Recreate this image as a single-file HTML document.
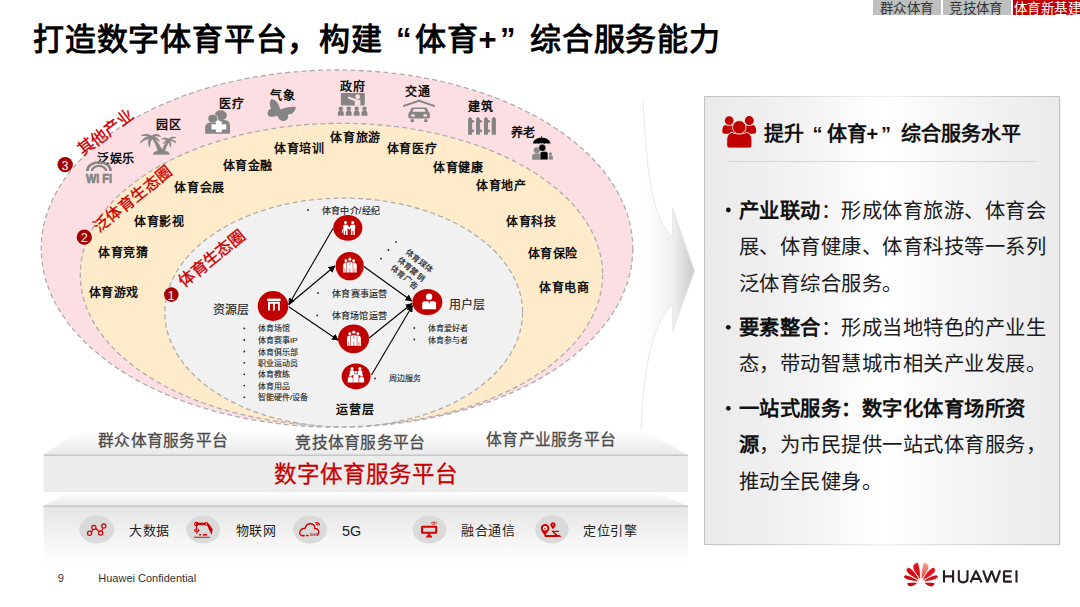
<!DOCTYPE html>
<html lang="zh-CN">
<head>
<meta charset="utf-8">
<style>
*{margin:0;padding:0;box-sizing:border-box;}
html,body{width:1080px;height:607px;overflow:hidden;background:#fff;}
body{position:relative;font-family:"Liberation Sans",sans-serif;color:#000;}
.abs{position:absolute;white-space:nowrap;}
.ttl{top:21px;font-size:31px;font-weight:bold;line-height:38px;letter-spacing:0.8px;color:#000;}
.tab{position:absolute;top:0;height:14.5px;font-size:13.5px;line-height:17px;letter-spacing:0.4px;color:#333;background:#BFBFBF;overflow:hidden;padding-left:6.8px;white-space:nowrap;}
#svg{position:absolute;left:0;top:0;}
#panel{position:absolute;left:703.5px;top:95.5px;width:356.5px;height:449px;padding:1px;
 background:linear-gradient(to right,#C2C2C2 0%,#D6D6D6 25%,#F2F2F2 50%,#D6D6D6 75%,#C2C2C2 100%);
 box-shadow:0.5px 0.8px 1.5px rgba(0,0,0,0.10);}
#panel::before{content:"";position:absolute;left:1px;top:1px;right:1px;bottom:1px;
 background:linear-gradient(to right,#EAEAEA 0%,#F3F3F3 28%,#FFFFFF 50%,#F5F5F5 72%,#EAEAEA 100%);}
.ph{top:122px;font-size:20px;font-weight:bold;line-height:24px;color:#111;}
#psep{position:absolute;left:728px;top:161px;width:308px;height:1px;background:#D6D6D6;}
.pl{position:absolute;left:738.8px;margin-top:96.5px;font-size:20.3px;letter-spacing:0.5px;line-height:24px;color:#1a1a1a;white-space:nowrap;}
.pl b{font-weight:bold;color:#111;}
#foot9{left:57.8px;top:571.5px;font-size:11px;line-height:13px;color:#333;}
#footc{left:98.3px;top:571.5px;font-size:11px;line-height:13px;color:#333;}
</style>
</head>
<body>
<div class="abs ttl" style="left:33px;">打造数字体育平台，构建</div>
<div class="abs ttl" style="left:396px;">“</div>
<div class="abs ttl" style="left:415px;">体育+</div>
<div class="abs ttl" style="left:500px;">”</div>
<div class="abs ttl" style="left:530px;">综合服务能力</div>
<div class="tab" style="left:873px;width:68px;">群众体育</div>
<div class="tab" style="left:942.5px;width:68.5px;">竞技体育</div>
<div class="tab" style="left:1012.5px;width:68px;background:#C00000;color:#fff;padding-left:1.5px;">体育新基建</div>

<svg id="svg" width="1080" height="607" viewBox="0 0 1080 607">
<defs>
 <linearGradient id="arrG" x1="645" y1="0" x2="695" y2="0" gradientUnits="userSpaceOnUse">
  <stop offset="0" stop-color="#FFFFFF"/><stop offset="0.55" stop-color="#F0F0F0"/><stop offset="1" stop-color="#C9C9C9"/>
 </linearGradient>
 <linearGradient id="topF" x1="0" y1="0" x2="0" y2="1">
  <stop offset="0" stop-color="#FFFFFF"/><stop offset="1" stop-color="#E9E9E9"/>
 </linearGradient>
 <linearGradient id="front2" x1="0" y1="0" x2="0" y2="1">
  <stop offset="0" stop-color="#E4E4E4"/><stop offset="0.5" stop-color="#F3F3F3"/><stop offset="1" stop-color="#FFFFFF"/>
 </linearGradient>
</defs>
<!-- chevron arrow -->
<path d="M600 100 L643 100 C647 185 655 222 672.6 236 L672.6 208 L694.5 271 L672.6 331 L672.6 305 C655 318 644 360 641 429 L600 429 Z" fill="url(#arrG)"/>
<path d="M643 100 C647 185 655 222 672.6 236 L672.6 208 L694.5 271 L672.6 331 L672.6 305 C655 318 644 360 641 429" fill="none" stroke="#E2E2E2" stroke-width="0.8"/>

<!-- ellipses -->
<ellipse cx="337" cy="248.6" rx="295.75" ry="178.6" fill="#FDDFE3" stroke="#ADADAD" stroke-width="1.3" stroke-dasharray="5 3.2"/>
<ellipse cx="341.45" cy="274.6" rx="261.15" ry="151.3" fill="#FFEBC9" stroke="#ADADAD" stroke-width="1.3" stroke-dasharray="5 3.2"/>
<ellipse cx="343.75" cy="312.5" rx="178.85" ry="114.4" fill="#F1F1F1" stroke="#ADADAD" stroke-width="1.3" stroke-dasharray="5 3.2"/>


<!-- outer ring labels -->
<g font-size="12" font-weight="bold" fill="#111" dominant-baseline="central" letter-spacing="0.6" transform="translate(0,1.8)">
<text x="97.0" y="156.8">泛娱乐</text>
<text x="156.0" y="123.1">园区</text>
<text x="219.4" y="102.5">医疗</text>
<text x="270.4" y="94.0">气象</text>
<text x="340.0" y="84.8">政府</text>
<text x="405.4" y="90.6">交通</text>
<text x="468.0" y="105.2">建筑</text>
<text x="510.7" y="130.8">养老</text>
<!-- middle ring labels -->
<text x="274.0" y="147.4">体育培训</text>
<text x="330.4" y="135.9">体育旅游</text>
<text x="386.9" y="147.4">体育医疗</text>
<text x="222.5" y="164.7">体育金融</text>
<text x="433.0" y="166.2">体育健康</text>
<text x="174.4" y="186.7">体育会展</text>
<text x="476.0" y="184.6">体育地产</text>
<text x="134.3" y="220.6">体育影视</text>
<text x="506.0" y="220.2">体育科技</text>
<text x="98.0" y="251.6">体育竞猜</text>
<text x="527.5" y="252.4">体育保险</text>
<text x="88.7" y="291.0">体育游戏</text>
<text x="539.2" y="286.3">体育电商</text>
<text x="336.4" y="408.0">运营层</text>
</g>
<g font-size="12" fill="#262626" stroke="#262626" stroke-width="0.15" dominant-baseline="central" transform="translate(0,0.7)">
<text x="213.4" y="309.3">资源层</text>
<text x="448.9" y="304.2">用户层</text>
</g>

<!-- gray icons outer ring -->
<g fill="#858585">
 <!-- wifi -->
 <path d="M87.3 171 A11.7 8.8 0 0 1 110.7 171" fill="none" stroke="#858585" stroke-width="2.5"/>
 <path d="M92 171 A7 5.1 0 0 1 106 171" fill="none" stroke="#858585" stroke-width="2.3"/>
 <text x="99" y="183" font-size="12.5" font-weight="bold" stroke="#858585" stroke-width="0.7" text-anchor="middle" textLength="26" lengthAdjust="spacingAndGlyphs" font-family="Liberation Sans, sans-serif">Wi Fi</text>
 <!-- palm trees -->
 <g transform="translate(136,128) scale(0.0495)" stroke="#858585" stroke-width="16" stroke-linejoin="round">
  <path d="M315 185 Q400 300 455 480 L545 480 Q470 320 345 180 Z"/>
  <path d="M650 235 Q580 330 510 480 L565 480 Q615 360 675 245 Z"/>
  <path d="M350 528 Q360 480 420 470 Q520 455 600 470 Q665 485 675 528 Z"/>
  <path d="M315 160 Q210 95 108 148 Q200 135 300 190 Z"/>
  <path d="M305 170 Q170 165 80 300 Q180 215 300 205 Z"/>
  <path d="M300 190 Q215 250 275 385 Q270 280 325 205 Z"/>
  <path d="M315 165 Q420 85 495 172 Q405 130 330 195 Z"/>
  <path d="M325 180 Q440 180 475 272 Q410 215 320 205 Z"/>
  <path d="M655 225 Q590 185 518 218 Q590 215 650 250 Z"/>
  <path d="M650 225 Q730 160 805 190 Q730 190 665 250 Z"/>
  <path d="M660 235 Q770 230 812 295 Q740 255 660 255 Z"/>
  <path d="M655 245 Q725 300 700 385 Q680 310 640 258 Z"/>
  <path d="M645 240 Q575 255 548 318 Q590 275 655 262 Z"/>
 </g>
 <!-- medical -->
 <g transform="translate(202,106) scale(0.0527)">
  <ellipse cx="355" cy="178" rx="115" ry="95"/>
  <path d="M420 265 C500 265 530 320 530 380 L530 525 L330 525 L330 265 Z"/>
  <ellipse cx="205" cy="238" rx="95" ry="83" stroke="#FDDFE3" stroke-width="14"/>
  <path d="M60 410 C60 350 100 320 150 315 L300 315 C330 315 340 340 340 380 L340 525 L60 525 Z"/>
  <path d="M265 290 L375 290 L375 345 L460 345 L460 445 L375 445 L375 500 L265 500 L265 445 L180 445 L180 345 L265 345 Z" fill="#fff"/>
 </g>
 <!-- butterfly -->
 <g transform="translate(264,96) scale(0.04615)">
  <path d="M350 290 C330 200 280 80 160 65 C120 110 110 220 160 275 C90 280 60 360 90 420 C130 470 220 450 290 430 C310 480 330 530 400 540 C480 545 540 500 520 400 C570 395 620 390 650 340 C680 300 700 250 680 235 C600 220 450 250 350 290 Z"/>
 </g>
 <!-- government -->
 <g transform="translate(334,88) scale(0.0527)">
  <rect x="130" y="95" width="455" height="235" rx="22"/>
  <circle cx="450" cy="165" r="45" fill="#FDDFE3"/>
  <path d="M285 185 L430 240" stroke="#FDDFE3" stroke-width="42" stroke-linecap="round"/>
  <rect x="395" y="222" width="105" height="115" fill="#FDDFE3"/>
  <g>
   <circle cx="130" cy="395" r="42"/><path d="M75 525 L75 465 C75 440 95 430 130 430 C165 430 185 440 185 465 L185 525 Z"/>
   <circle cx="280" cy="395" r="42"/><path d="M225 525 L225 465 C225 440 245 430 280 430 C315 430 335 440 335 465 L335 525 Z"/>
   <circle cx="430" cy="395" r="42"/><path d="M375 525 L375 465 C375 440 395 430 430 430 C465 430 485 440 485 465 L485 525 Z"/>
   <circle cx="578" cy="395" r="42"/><path d="M523 525 L523 465 C523 440 543 430 578 430 C613 430 633 440 633 465 L633 525 Z"/>
  </g>
 </g>
 <!-- car -->
 <g transform="translate(400,96) scale(0.0494)">
  <path d="M80 200 L385 98 L690 200" fill="none" stroke="#858585" stroke-width="42" stroke-linecap="round" stroke-linejoin="round"/>
  <path d="M250 235 L520 235 C540 235 550 250 560 280 L580 325 C600 335 605 350 605 380 L605 420 C605 440 595 455 570 455 L205 455 C180 455 170 440 170 420 L170 380 C170 350 175 335 195 325 L215 280 C225 250 235 235 250 235 Z"/>
  <path d="M280 262 L490 262 L520 320 L250 320 Z" fill="#FDDFE3"/>
  <ellipse cx="262" cy="396" rx="42" ry="26" fill="#FDDFE3"/>
  <ellipse cx="512" cy="396" rx="42" ry="26" fill="#FDDFE3"/>
  <rect x="215" y="470" width="68" height="58" rx="8"/>
  <rect x="490" y="470" width="68" height="58" rx="8"/>
 </g>
 <!-- fence -->
 <g transform="translate(464,112) scale(0.04286)">
  <path d="M95 160 L142 108 L190 160 L190 530 L95 530 Z"/>
  <path d="M280 160 L327 108 L375 160 L375 530 L280 530 Z"/>
  <path d="M465 160 L512 108 L560 160 L560 530 L465 530 Z"/>
  <path d="M645 160 L695 108 L745 160 L745 530 L645 530 Z"/>
  <rect x="185" y="190" width="50" height="55"/><rect x="185" y="410" width="50" height="60"/>
  <rect x="370" y="190" width="50" height="55"/><rect x="370" y="410" width="50" height="60"/>
  <rect x="555" y="190" width="50" height="55"/><rect x="555" y="410" width="50" height="60"/>
 </g>
 <!-- umbrella -->
 <g transform="translate(528,134) scale(0.04615)">
  <circle cx="190" cy="352" r="66" fill="#8A8A8A"/>
  <path d="M90 560 L90 470 C90 440 120 420 160 420 L230 420 C275 420 300 440 300 470 L300 560 Z" fill="#8A8A8A"/>
  <circle cx="487" cy="432" r="36" fill="#8A8A8A"/>
  <path d="M450 555 L450 490 C450 475 465 468 487 468 C510 468 540 475 540 495 L540 555 Z" fill="#8A8A8A"/>
  <circle cx="310" cy="300" r="76" fill="#000" stroke="#FDDFE3" stroke-width="10"/>
  <path d="M265 560 L265 420 C265 395 290 380 330 380 L380 380 C415 380 432 400 432 430 L432 560 Z" fill="#000" stroke="#FDDFE3" stroke-width="10"/>
  <path d="M105 210 C120 120 200 80 295 80 C390 80 475 120 490 210 C470 195 450 195 430 210 C405 195 385 195 360 212 C340 198 320 196 295 210 C270 196 250 198 230 212 C205 195 185 195 165 210 C145 195 125 195 105 210 Z" fill="#000"/>
  <rect x="287" y="45" width="16" height="40" fill="#000"/>
 </g>
</g>

<!-- rotated red titles -->
<g font-size="16.3" fill="#CC0000" stroke="#CC0000" stroke-width="0.35" dominant-baseline="central">
<text transform="translate(86.3,146.5) rotate(-37.3)" x="-8.15">其他产业</text>
<text transform="translate(101.6,224.2) rotate(-39) scale(0.975)" x="-8.15" font-size="16">泛体育生态圈</text>
<text transform="translate(186.7,278.2) rotate(-39.2)" x="-8.15">体育生态圈</text>
</g>
<!-- number circles -->
<g>
<circle cx="65.2" cy="164.6" r="7.7" fill="#A50000"/>
<circle cx="84.3" cy="237.2" r="7.6" fill="#A50000"/>
<circle cx="171.3" cy="294.6" r="7.3" fill="#A50000"/>
</g>
<g font-size="12" fill="#fff" text-anchor="middle" dominant-baseline="central">
<text x="65.2" y="165.5">3</text>
<text x="84.3" y="237.7">2</text>
<text x="171" y="295.5">1</text>
</g>
<!-- small lists -->
<g font-size="8" fill="#1E1E1E" stroke="#1E1E1E" stroke-width="0.12" dominant-baseline="central" transform="translate(0,0.5)">
<text x="258.1" y="328.4">体育场馆</text>
<text x="258.1" y="340">体育赛事IP</text>
<text x="258.1" y="351.5">体育俱乐部</text>
<text x="258.1" y="362.8">职业运动员</text>
<text x="258.1" y="374.3">体育教练</text>
<text x="258.1" y="385.6">体育用品</text>
<text x="258.1" y="397.3">智能硬件/设备</text>
<text x="428.1" y="328">体育爱好者</text>
<text x="428.1" y="339.5">体育参与者</text>
<text x="388.8" y="378.4">周边服务</text>
</g>
<g font-size="9" fill="#1E1E1E" stroke="#1E1E1E" stroke-width="0.15" letter-spacing="0.25" dominant-baseline="central" transform="translate(0,0.7)">
<text x="321.8" y="210">体育中介/经纪</text>
<text x="332.2" y="293">体育赛事运营</text>
<text x="331.5" y="315.4">体育场馆运营</text>
</g>
<g font-size="8" fill="#1E1E1E" stroke="#1E1E1E" stroke-width="0.12" dominant-baseline="central">
<text transform="translate(406.9,251) rotate(40)">体育媒体</text>
<text transform="translate(398.8,259.2) rotate(40)">体育营销</text>
<text transform="translate(391.9,267.3) rotate(40)">体育广告</text>
</g>
<g fill="#222">
<circle cx="244.3" cy="328.4" r="0.9"/><circle cx="244.3" cy="340" r="0.9"/><circle cx="244.3" cy="351.5" r="0.9"/>
<circle cx="244.3" cy="362.8" r="0.9"/><circle cx="244.3" cy="374.3" r="0.9"/><circle cx="244.3" cy="385.6" r="0.9"/>
<circle cx="244.3" cy="397.3" r="0.9"/>
<circle cx="414.3" cy="328" r="0.9"/><circle cx="414.3" cy="339.5" r="0.9"/>
<circle cx="375" cy="378.4" r="0.9"/>
<circle cx="308" cy="210" r="0.9"/><circle cx="318" cy="293" r="0.9"/><circle cx="317.2" cy="315.4" r="0.9"/>
<circle cx="396" cy="241.9" r="0.9"/><circle cx="388.5" cy="250" r="0.9"/><circle cx="381" cy="258.7" r="0.9"/>
</g>
<!-- arrows -->
<defs>
<marker id="ah" viewBox="0 0 10 10" refX="9" refY="5" markerWidth="7" markerHeight="7" markerUnits="userSpaceOnUse" orient="auto">
<path d="M0 0 L10 5 L0 10 Z" fill="#000"/></marker>
</defs>
<g stroke="#000" stroke-width="1.1" fill="none" marker-end="url(#ah)">
<line x1="333.3" y1="228" x2="288.8" y2="304.5"/>
<line x1="288.8" y1="304.5" x2="334.9" y2="266"/>
<line x1="288.8" y1="306.8" x2="338.3" y2="340.2"/>
<line x1="363.8" y1="266.5" x2="411.8" y2="301"/>
<line x1="369.2" y1="338" x2="412" y2="303.5"/>
<line x1="371.5" y1="375" x2="412.5" y2="305.5"/>
</g>
<!-- red circles -->
<g fill="#C00000">
<ellipse cx="273" cy="306" rx="15.3" ry="14.9"/>
<ellipse cx="347.8" cy="227.8" rx="14.6" ry="12.9"/>
<ellipse cx="349.7" cy="266.1" rx="14.1" ry="14.2"/>
<ellipse cx="353.6" cy="338.8" rx="15.5" ry="14.4"/>
<ellipse cx="356.1" cy="376.4" rx="14.5" ry="13"/>
<ellipse cx="427.4" cy="302" rx="15" ry="13.1"/>
</g>
<g fill="#fff">
 <!-- resource gate -->
 <rect x="267.2" y="298.6" width="13.4" height="2.4"/>
 <path d="M268 301.8 H279.8 V310.6 H278.1 V303.8 H274.8 V310.6 H273.1 V303.8 H270 V310.6 H268 Z"/>
 <!-- handshake -->
 <circle cx="345.5" cy="222.6" r="1.5"/><circle cx="352.7" cy="222.6" r="1.5"/>
 <path d="M343.3 225 Q345.5 224.2 347.7 225 L350.3 229 L348.8 229.6 L347.6 228 L347.6 235 L346.1 235 L346.1 231 L345.2 231 L345.2 235 L343.7 235 L343.7 229.5 L343.3 229.5 Z"/>
 <path d="M355.2 225 Q352.9 224.2 350.7 225 L348.4 229 L349.7 229.6 L350.9 228 L350.9 235 L352.4 235 L352.4 231 L353.3 231 L353.3 235 L354.8 235 L354.8 229.6 L355.2 229.6 Z"/>
 <rect x="342" y="229" width="1.3" height="3.8" rx="0.5"/>
 <!-- group B -->
 <g transform="translate(349.8,259.2) scale(1.0)">
  <circle cx="-3.9" cy="1.5" r="1.45"/><circle cx="3.9" cy="1.5" r="1.45"/>
  <path d="M-6.6 13.3 L-6.6 6 Q-6.5 3.4 -3.9 3.3 Q-1.6 3.4 -1.2 5.5 L-1.2 13.3 Z"/>
  <path d="M6.9 13.3 L6.9 6 Q6.8 3.4 3.9 3.3 Q1.6 3.4 1.2 5.5 L1.2 13.3 Z"/>
  <path d="M-3.2 13.5 L-3.2 4.4 Q-3 2.4 0 2.4 Q3 2.4 3.2 4.4 L3.2 13.5 Z" stroke="#C00000" stroke-width="0.5"/>
  <circle cx="0" cy="0" r="1.75" stroke="#C00000" stroke-width="0.4"/>
  <path d="M0 3 L0 6.5 M0 9 L0 13.5 M-5 9.5 L-5 13.5 M5 9.5 L5 13.5" stroke="#C00000" stroke-width="0.5"/>
 </g>
 <!-- group C -->
 <g transform="translate(353.8,332.2) scale(1.03)">
  <circle cx="-3.9" cy="1.5" r="1.45"/><circle cx="3.9" cy="1.5" r="1.45"/>
  <path d="M-6.6 13.3 L-6.6 6 Q-6.5 3.4 -3.9 3.3 Q-1.6 3.4 -1.2 5.5 L-1.2 13.3 Z"/>
  <path d="M6.9 13.3 L6.9 6 Q6.8 3.4 3.9 3.3 Q1.6 3.4 1.2 5.5 L1.2 13.3 Z"/>
  <path d="M-3.2 13.5 L-3.2 4.4 Q-3 2.4 0 2.4 Q3 2.4 3.2 4.4 L3.2 13.5 Z" stroke="#C00000" stroke-width="0.5"/>
  <circle cx="0" cy="0" r="1.75" stroke="#C00000" stroke-width="0.4"/>
  <path d="M0 3 L0 6.5 M0 9 L0 13.5 M-5 9.5 L-5 13.5 M5 9.5 L5 13.5" stroke="#C00000" stroke-width="0.5"/>
 </g>
 <!-- family D -->
 <g>
  <circle cx="352" cy="368.4" r="1.5"/><circle cx="359.9" cy="368.4" r="1.5"/>
  <path d="M349.8 375.3 L349.8 371.6 Q350 370 352 370 Q354.2 370 354.4 371.6 L354.4 375.3 Z"/>
  <path d="M357.7 375.3 L357.7 371.6 Q357.9 370 359.9 370 Q362.1 370 362.3 371.6 L362.3 375.3 Z"/>
  <circle cx="355.9" cy="372.3" r="1.35"/>
  <path d="M353.2 382.4 L353.2 375.8 Q353.4 374.1 355.9 374.1 Q358.4 374.1 358.6 375.8 L358.6 382.4 Z"/>
  <circle cx="350.4" cy="375.4" r="1.3"/><circle cx="361.6" cy="375.4" r="1.3"/>
  <path d="M347.8 382.4 L347.8 378.4 Q348 377 350.4 377 Q352.7 377 352.8 378.4 L352.8 382.4 Z"/>
  <path d="M359.2 382.4 L359.2 378.4 Q359.4 377 361.6 377 Q363.9 377 364.1 378.4 L364.1 382.4 Z"/>
 </g>
 <!-- user -->
 <circle cx="429.1" cy="296.8" r="3.2"/>
 <path d="M422.2 309.3 L422.2 303.2 Q422.4 301.3 424.8 301.2 L433.6 301.2 Q436 301.3 436.1 303.2 L436.1 309.3 Z"/>
 <path d="M428.1 301.2 L430.4 301.2 L429.25 303.6 Z" fill="#C00000"/>
</g>
<!-- platform slab 1 -->
<polygon points="43.5,455 79,430.5 643,430.5 688,455" fill="url(#topF)"/>
<rect x="43.5" y="455" width="644.5" height="37" fill="#ECECEC"/>
<rect x="43.5" y="454.5" width="644.5" height="1.5" fill="#C6C6C6"/>
<!-- platform slab 2 -->
<polygon points="43.5,506 68,492.5 656,492.5 688,506" fill="url(#topF)"/>
<rect x="43.5" y="506" width="644.5" height="58" fill="url(#front2)"/>
<rect x="43.5" y="505.5" width="644.5" height="1.5" fill="#C6C6C6"/>



<!-- HUAWEI logo -->
<defs><linearGradient id="hwS" x1="0" y1="0" x2="0" y2="1"><stop offset="0" stop-color="#F0A08C"/><stop offset="0.5" stop-color="#E87868"/><stop offset="1" stop-color="#DC2A2A"/></linearGradient></defs>
<g transform="translate(900,558) scale(0.0527)" stroke="#fff" stroke-width="14">
 <g id="hwL">
  <path d="M385 420 C330 330 236 235 246 162 C254 112 298 86 338 86 C374 140 395 300 385 420 Z" fill="#DA121A"/>
  <path d="M368 430 C280 385 140 305 122 245 C110 205 135 180 172 178 C250 220 340 330 368 430 Z" fill="#D00F18"/>
  <path d="M355 448 C260 445 100 420 75 372 C62 340 82 318 118 322 C200 340 315 395 355 448 Z" fill="#C40D15"/>
  <path d="M340 462 C270 462 190 464 135 468 C122 500 155 545 210 545 C262 536 310 505 340 462 Z" fill="#B80B12"/>
 </g>
 <g transform="translate(792,0) scale(-1,1)">
  <path d="M385 420 C330 330 236 235 246 162 C254 112 298 86 338 86 C374 140 395 300 385 420 Z" fill="url(#hwS)"/>
  <path d="M368 430 C280 385 140 305 122 245 C110 205 135 180 172 178 C250 220 340 330 368 430 Z" fill="#E2141E"/>
  <path d="M355 448 C260 445 100 420 75 372 C62 340 82 318 118 322 C200 340 315 395 355 448 Z" fill="#D2101A"/>
  <path d="M340 462 C270 462 190 464 135 468 C122 500 155 545 210 545 C262 536 310 505 340 462 Z" fill="#C00C14"/>
 </g>
</g>
<g fill="none" stroke="#2A1F1F" stroke-width="2.1" stroke-linejoin="bevel">
 <path d="M944 570.3 V582.5 M953.1 570.3 V582.5 M944 576.4 H953.1"/>
 <path d="M958.8 570.3 V578.3 C958.8 581 960.5 582.4 963.1 582.4 C965.7 582.4 967.5 581 967.5 578.3 V570.3"/>
 <path d="M970.6 582.5 L976 570.6 L981.5 582.5 M972.4 578.9 H979.7"/>
 <path d="M983.2 570.3 L987.4 582.3 L991.6 570.8 L995.8 582.3 L1000.1 570.3"/>
 <path d="M1011.8 571.2 H1004 V581.6 H1011.8 M1004 576.4 H1011.2"/>
 <path d="M1016.5 570.3 V582.5"/>
</g>

<!-- platform icons -->
<g fill="#DADADA">
<ellipse cx="96.7" cy="529.6" rx="17.4" ry="14"/>
<ellipse cx="203.2" cy="529.6" rx="16.9" ry="14"/>
<ellipse cx="310.1" cy="529.6" rx="17" ry="14"/>
<ellipse cx="429.5" cy="529.6" rx="16.9" ry="14"/>
<ellipse cx="551.9" cy="529.6" rx="16.7" ry="14"/>
</g>
<g stroke="#D40000" fill="none" stroke-width="1.2">
 <!-- big data -->
 <path d="M91.6 531.9 L92.8 529.2 M95.5 528.3 L99.4 531.8 M101.5 531 L103.1 528.3"/>
 <circle cx="89.6" cy="533.2" r="2.1"/><circle cx="93.8" cy="527.4" r="2.1"/>
 <circle cx="100.7" cy="533" r="2.1"/><circle cx="103.8" cy="525.9" r="2.1"/>
</g>
<!-- robot arm -->
<g transform="translate(185,514) scale(0.0527)" fill="#D40000">
 <rect x="210" y="165" width="200" height="45"/>
 <circle cx="215" cy="190" r="32" fill="none" stroke="#D40000" stroke-width="22"/>
 <circle cx="405" cy="188" r="36"/><circle cx="405" cy="188" r="14" fill="#DADADA"/>
 <path d="M420 215 L445 175 L525 290 L505 395 L455 300 Z"/>
 <path d="M205 220 L228 220 L238 380 L218 380 Z"/>
 <path d="M200 280 L180 310 L215 345 M245 280 L265 310 L235 345" fill="none" stroke="#D40000" stroke-width="20"/>
 <rect x="170" y="432" width="300" height="18"/>
 <rect x="270" y="378" width="32" height="32"/><rect x="340" y="378" width="78" height="32"/>
</g>
<!-- cloud 5G -->
<g transform="translate(291,514) scale(0.0527)">
 <path d="M250 410 L205 410 C160 400 150 340 185 310 C200 280 230 270 265 275 C280 215 330 180 380 185 C430 190 460 230 450 275 C500 270 535 310 525 360 C520 390 505 400 490 405" fill="none" stroke="#D40000" stroke-width="26"/>
 <rect x="205" y="395" width="55" height="28" fill="#D40000"/>
 <rect x="285" y="395" width="50" height="28" fill="#D40000"/>
 <text x="360" y="420" font-size="75" font-weight="bold" fill="#D40000" font-family="Liberation Sans, sans-serif">5GC</text>
 <path d="M465 165 A70 70 0 0 1 545 215 M470 195 A40 40 0 0 1 515 222" fill="none" stroke="#D40000" stroke-width="20"/>
</g>
<!-- monitor -->
<g transform="translate(410,514) scale(0.0527)" fill="#D40000">
 <rect x="228" y="243" width="270" height="115" fill="none" stroke="#D40000" stroke-width="38" rx="8"/>
 <rect x="340" y="370" width="45" height="30"/>
 <path d="M305 445 C305 410 330 398 362 398 C395 398 420 410 420 445 Z"/>
 <path d="M400 180 C430 145 480 145 510 180 M425 200 C440 185 465 185 480 200" fill="none" stroke="#D40000" stroke-width="18"/>
</g>
<!-- location -->
<g transform="translate(533,514) scale(0.0527)" fill="#D40000">
 <path d="M228 190 C275 190 310 225 310 270 C310 320 265 350 240 400 L215 400 C190 350 148 320 148 270 C148 225 182 190 228 190 Z"/>
 <circle cx="228" cy="270" r="42" fill="#fff"/>
 <path d="M228 248 L246 288 L210 288 Z" fill="#D40000"/>
 <path d="M225 395 L545 430 L520 435 L225 435 Z"/>
 <path d="M215 400 L500 400 L545 432 L225 432 Z"/>
 <path d="M345 320 L495 320 L495 342 L400 342 L475 400 L420 400 Z"/>
 <path d="M380 155 C408 155 430 177 430 205 C430 235 400 255 382 290 L378 290 C360 255 330 235 330 205 C330 177 352 155 380 155 Z"/>
 <circle cx="380" cy="205" r="18" fill="#E86060"/>
</g>

<g font-family="Liberation Sans, sans-serif">
<!-- platform text -->
<text x="98.2" y="440.5" font-size="15.8" fill="#4A4A4A" stroke="#4A4A4A" stroke-width="0.3" letter-spacing="0.25" dominant-baseline="central">群众体育服务平台</text>
<text x="295.4" y="442.2" font-size="15.8" fill="#4A4A4A" stroke="#4A4A4A" stroke-width="0.3" letter-spacing="0.25" dominant-baseline="central">竞技体育服务平台</text>
<text x="486" y="439.8" font-size="15.8" fill="#4A4A4A" stroke="#4A4A4A" stroke-width="0.3" letter-spacing="0.25" dominant-baseline="central">体育产业服务平台</text>
<text x="273.5" y="474.5" font-size="22.5" fill="#C80000" stroke="#C80000" stroke-width="0.3" dominant-baseline="central">数字体育服务平台</text>
</g>
<g font-size="13" fill="#222" dominant-baseline="central" letter-spacing="0.5">
<text x="129.2" y="530.6">大数据</text>
<text x="235.6" y="530.6">物联网</text>
<text x="342.1" y="530.6" font-size="14.4" letter-spacing="0">5G</text>
<text x="461.2" y="530.6">融合通信</text>
<text x="583.4" y="530.6">定位引擎</text>
</g>
</svg>

<div id="panel"></div>
<svg class="abs" style="left:0;top:0;" width="1080" height="607" viewBox="0 0 1080 607">
<!-- header people icon -->
<g transform="translate(718,112) scale(0.06588)" fill="#C00000">
 <circle cx="170" cy="130" r="66"/>
 <circle cx="475" cy="130" r="68"/>
 <path d="M65 300 C65 240 80 205 110 198 C140 215 200 215 230 198 C250 205 260 225 262 250 L262 330 L110 330 C80 330 65 320 65 300 Z"/>
 <path d="M580 300 C580 240 565 205 535 198 C505 215 445 215 415 198 C395 205 385 225 383 250 L383 330 L535 330 C565 330 580 320 580 300 Z"/>
 <path d="M132 500 L132 420 C132 360 165 318 215 308 C255 340 390 340 430 308 C482 318 515 360 515 420 L515 500 C515 532 498 548 465 548 L182 548 C150 548 132 532 132 500 Z" stroke="#EFEFEF" stroke-width="14"/>
 <circle cx="322" cy="232" r="102" stroke="#EFEFEF" stroke-width="14"/>
</g>
<g fill="#111">
 <circle cx="728.35" cy="210" r="2.4"/>
 <circle cx="728.35" cy="327.3" r="2.4"/>
 <circle cx="728.35" cy="408.3" r="2.4"/>
</g>
</svg>
<div class="abs ph" style="left:764px;">提升</div>
<div class="abs ph" style="left:812.5px;">“</div>
<div class="abs ph" style="left:826.5px;">体育+</div>
<div class="abs ph" style="left:881px;">”</div>
<div class="abs ph" style="left:901.3px;">综合服务水平</div>
<div id="psep"></div>
<div class="pl" style="top:102px;"><b>产业联动</b>：形成体育旅游、体育会</div>
<div class="pl" style="top:138.5px;">展、体育健康、体育科技等一系列</div>
<div class="pl" style="top:175px;">泛体育综合服务。</div>
<div class="pl" style="top:219.3px;"><b>要素整合</b>：形成当地特色的产业生</div>
<div class="pl" style="top:255.8px;">态，带动智慧城市相关产业发展。</div>
<div class="pl" style="top:300.3px;"><b>一站式服务：数字化体育场所资</b></div>
<div class="pl" style="top:336.8px;"><b>源</b>，为市民提供一站式体育服务，</div>
<div class="pl" style="top:373.2px;">推动全民健身。</div>

<div id="foot9" class="abs">9</div>
<div id="footc" class="abs">Huawei Confidential</div>
</body>
</html>
